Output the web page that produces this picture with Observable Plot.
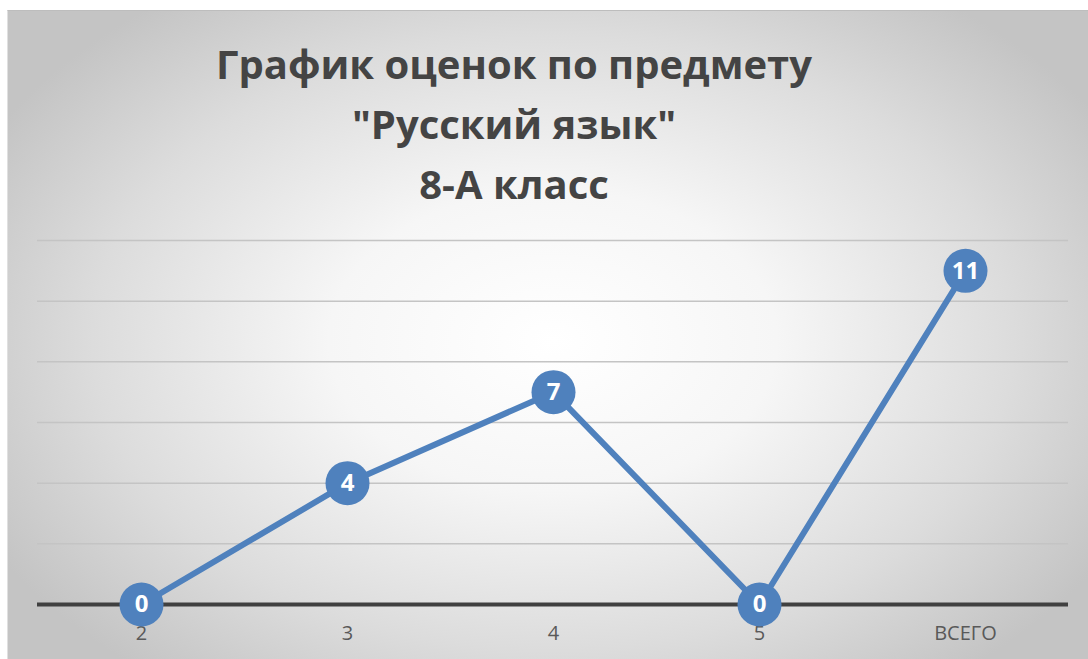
<!DOCTYPE html>
<html>
<head>
<meta charset="utf-8">
<script src="https://cdn.jsdelivr.net/npm/d3@7"></script>
<script src="https://cdn.jsdelivr.net/npm/@observablehq/plot@0.6"></script>
<style>
  html, body { margin: 0; padding: 0; background: #ffffff; }
  body { width: 1088px; height: 659px; position: relative; overflow: hidden; font-family: "Open Sans", sans-serif; }
  #frame {
    position: absolute; left: 7px; top: 10px; width: 1081px; height: 649px;
    background: radial-gradient(ellipse 640px 430px at 545px 330px, #ffffff 0%, #f6f6f6 35%, #dcdcdc 72%, #c4c4c4 100%);
    border-top: 1px solid #bdbdbd;
    border-left: 1px solid #e0e0e0;
    box-sizing: border-box;
  }
  #title {
    position: absolute; left: 0; top: 34px; width: 1028px; text-align: center;
    font-family: "Open Sans", sans-serif; font-weight: 700; font-size: 40px;
    line-height: 60px; color: #444444;
  }
  #chart { position: absolute; left: 0; top: 220px; }
</style>
</head>
<body>
<div id="frame"></div>
<div id="title">
  <div>График оценок по предмету</div>
  <div>"Русский язык"</div>
  <div>8-А класс</div>
</div>
<div id="chart"></div>
<script>
const categories = ["2", "3", "4", "5", "ВСЕГО"];
const values = [0, 4, 7, 0, 11];
const yTicks = [0, 2, 4, 6, 8, 10, 12];

const data = categories.map((c, i) => ({ category: c, value: values[i] }));
const blue = "#4f81bd";

const plot = Plot.plot({
  width: 1088,
  height: 439,
  marginLeft: 37,
  marginRight: 20,
  marginTop: 20,
  marginBottom: 55,
  style: { background: "transparent", fontFamily: "Open Sans, sans-serif", overflow: "visible" },
  x: { type: "point", domain: categories, padding: 0.5, label: null },
  y: { domain: [0, 12], label: null },
  marks: [
    Plot.ruleY(yTicks.filter(d => d > 0), { stroke: "#c4c4c4", strokeWidth: 1.5 }),
    Plot.ruleY([0], { stroke: "#404040", strokeWidth: 4 }),
    Plot.axisX({ tickSize: 0, tickPadding: 21, fontSize: 20, fill: "#595959", label: null }),
    Plot.line(data, { x: "category", y: "value", stroke: blue, strokeWidth: 6, strokeLinejoin: "round" }),
    Plot.dot(data, { x: "category", y: "value", r: 22, fill: blue, stroke: "none" }),
    Plot.text(data, { x: "category", y: "value", text: d => String(d.value), fill: "white", fontSize: 24, fontWeight: "bold" })
  ]
});
plot.querySelectorAll("[aria-label='y-axis tick'], [aria-label='y-axis tick label']").forEach(n => n.remove());
document.getElementById("chart").appendChild(plot);
</script>
</body>
</html>
